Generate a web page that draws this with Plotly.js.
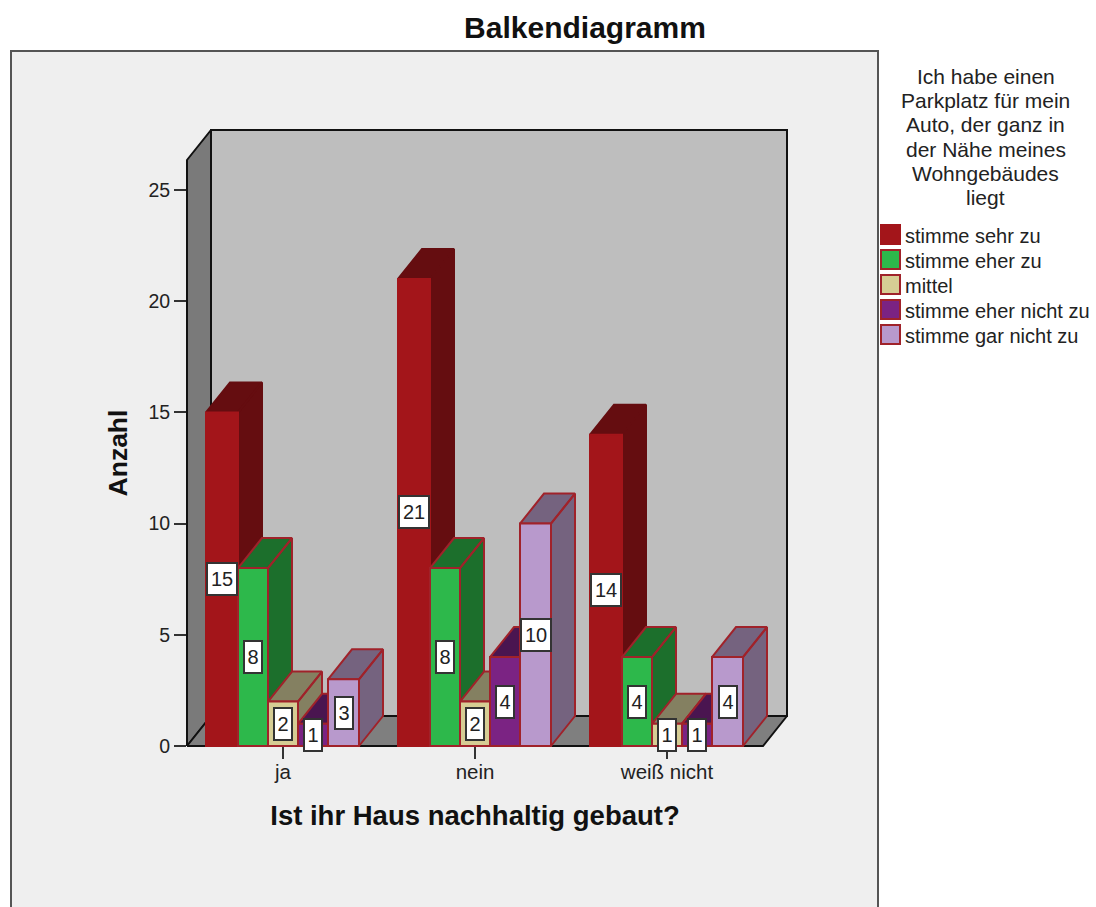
<!DOCTYPE html>
<html>
<head>
<meta charset="utf-8">
<script src="https://cdn.plot.ly/plotly-3.0.1.min.js"></script>
<style>html,body{margin:0;padding:0;background:#fff;overflow:hidden}</style>
</head>
<body>
<div id="chart" style="width:1096px;height:907px"></div>
<script>
// Survey counts per answer, one array per response option
const categories = ["ja", "nein", "weiß nicht"];
const stimmeSehrZu = [15, 21, 14];
const stimmeEherZu = [8, 8, 4];
const mittel = [2, 2, 1];
const stimmeEherNichtZu = [1, 4, 1];
const stimmeGarNichtZu = [3, 10, 4];
const answerNames = ["stimme sehr zu", "stimme eher zu", "mittel", "stimme eher nicht zu", "stimme gar nicht zu"];
const legendHeading = ["Ich habe einen", "Parkplatz für mein", "Auto, der ganz in", "der Nähe meines", "Wohngebäudes", "liegt"];
const yTicks = [0, 5, 10, 15, 20, 25];

const series = [stimmeSehrZu, stimmeEherZu, mittel, stimmeEherNichtZu, stimmeGarNichtZu];
const faceColors = ["#a3151a", "#2db84b", "#d6cd94", "#7b2383", "#b899cc"];
const shadeColors = ["#650d10", "#1c6f2c", "#848061", "#4a1550", "#75637f"];
const edgeColors = ["#a3151a", "#a0222a", "#a0222a", "#a0222a", "#a0222a"];

// Plot frame in page pixels and the scale of the two axes
const LEFT = 187, RIGHT = 763, TOP = 160, BOTTOM = 746;
const Y_MAX = 26.35;
const DEPTH_X = 24 / 192, DEPTH_Y = 30 / 22.24;   // oblique depth of the 3D look, in axis units
// Bar edges relative to the group centre, in axis units
const barEdges = [-77, -45, -15, 15, 45, 76].map(v => v / 192);

const px = x => (x - LEFT) / (RIGHT - LEFT);
const py = y => (BOTTOM - y) / (BOTTOM - TOP);

function wall(xs, ys, fill) {
  return {
    type: "scatter", mode: "lines", x: xs, y: ys, fill: "toself", fillcolor: fill,
    line: {color: "#111", width: 2}, cliponaxis: false, hoverinfo: "skip", zorder: 0
  };
}

const xL = 0.5, xR = 3.5;
const traces = [
  wall([xL + DEPTH_X, xL + DEPTH_X, xR + DEPTH_X, xR + DEPTH_X, xL + DEPTH_X],
       [DEPTH_Y, Y_MAX + DEPTH_Y, Y_MAX + DEPTH_Y, DEPTH_Y, DEPTH_Y], "#bebebe"),
  wall([xL, xL, xL + DEPTH_X, xL + DEPTH_X, xL],
       [0, Y_MAX, Y_MAX + DEPTH_Y, DEPTH_Y, 0], "#7a7a7a"),
  wall([xL, xR, xR + DEPTH_X, xL + DEPTH_X, xL],
       [0, 0, DEPTH_Y, DEPTH_Y, 0], "#7f7f7f")
];

const annotations = [];

series.forEach((values, k) => {
  const x0 = barEdges[k], x1 = barEdges[k + 1];
  // Side and top faces of each bar
  const sx = [], sy = [];
  values.forEach((v, g) => {
    const c = g + 1;
    sx.push(c + x1, c + x1, c + x1 + DEPTH_X, c + x1 + DEPTH_X, c + x1, null,
            c + x0, c + x0 + DEPTH_X, c + x1 + DEPTH_X, c + x1, c + x0, null);
    sy.push(0, v, v + DEPTH_Y, DEPTH_Y, 0, null,
            v, v + DEPTH_Y, v + DEPTH_Y, v, v, null);
  });
  traces.push({
    type: "scatter", mode: "lines", x: sx, y: sy, fill: "toself", fillcolor: shadeColors[k],
    line: {color: k === 0 ? shadeColors[0] : edgeColors[k], width: 2},
    cliponaxis: false, hoverinfo: "skip", connectgaps: false, zorder: 2 * k + 1
  });
  // Front faces
  traces.push({
    type: "bar", name: answerNames[k], x: [1, 2, 3], y: values,
    width: x1 - x0, offset: x0,
    marker: {color: faceColors[k], line: {color: edgeColors[k], width: 2}},
    cliponaxis: false, zorder: 2 * k + 2
  });
  // Value labels in white boxes at half the bar height
  values.forEach((v, g) => {
    annotations.push({
      x: g + 1 + (x0 + x1) / 2, y: v / 2, xref: "x", yref: "y",
      text: String(v), showarrow: false,
      font: {family: "Liberation Sans", size: 20, color: "#222"},
      bgcolor: "#fff", bordercolor: "#333", borderwidth: 2, borderpad: 0,
      width: v >= 10 ? 28 : 16, height: 30, align: "center", valign: "middle"
    });
  });
  // Legend entry
  annotations.push({
    x: px(903), y: py(236 + 25 * k), xref: "paper", yref: "paper",
    xanchor: "left", yanchor: "middle", showarrow: false, text: answerNames[k],
    font: {family: "Liberation Sans", size: 20, color: "#222"}
  });
});

// Heading above the legend, one line per annotation for a tight line pitch
legendHeading.forEach((line, i) => {
  annotations.push({
    x: px(985.5), y: py(76 + 24.4 * i), xref: "paper", yref: "paper",
    xanchor: "center", yanchor: "middle", showarrow: false, text: line,
    font: {family: "Liberation Sans", size: 21, color: "#222"}
  });
});

const shapes = [{
  type: "rect", xref: "paper", yref: "paper", layer: "below",
  x0: px(11), x1: px(878), y0: py(51), y1: py(930),
  fillcolor: "#efefef", line: {color: "#555", width: 2}
}];
faceColors.forEach((c, k) => {
  shapes.push({
    type: "rect", xref: "paper", yref: "paper", layer: "above",
    x0: px(881), x1: px(900), y0: py(225 + 25 * k), y1: py(244 + 25 * k),
    fillcolor: c, line: {color: edgeColors[k], width: 2}
  });
});

const layout = {
  width: 1096, height: 907, autosize: false,
  margin: {l: LEFT, r: 1096 - RIGHT, t: TOP, b: 907 - BOTTOM, pad: 0},
  paper_bgcolor: "#fff", plot_bgcolor: "rgba(0,0,0,0)",
  showlegend: false, barmode: "overlay",
  title: {
    text: "Balkendiagramm", x: 585 / 1096, xanchor: "center", xref: "container",
    y: 1 - 27 / 907, yanchor: "middle", yref: "container",
    font: {family: "Liberation Sans", size: 30, weight: 700, color: "#111"}
  },
  xaxis: {
    range: [xL, xR], tickmode: "array", tickvals: [1, 2, 3], ticktext: categories,
    ticks: "outside", ticklen: 12, tickwidth: 2, tickcolor: "#333",
    ticklabelstandoff: -5,
    showgrid: false, zeroline: false, showline: false,
    tickfont: {family: "Liberation Sans", size: 20.5, color: "#222"},
    title: {text: "Ist ihr Haus nachhaltig gebaut?", standoff: 24,
            font: {family: "Liberation Sans", size: 27.5, weight: 700, color: "#111"}}
  },
  yaxis: {
    range: [0, Y_MAX], tickmode: "array", tickvals: yTicks,
    ticks: "outside", ticklen: 12, tickwidth: 2, tickcolor: "#333",
    showgrid: false, zeroline: false, showline: false,
    tickfont: {family: "Liberation Sans", size: 19.5, color: "#222"},
    title: {text: "Anzahl", standoff: 13,
            font: {family: "Liberation Sans", size: 26.5, weight: 700, color: "#111"}}
  },
  shapes, annotations
};

Plotly.newPlot("chart", traces, layout, {displayModeBar: false, staticPlot: true}).then(gd => {
  // The cabinet walls and bar depth reach past the axis frame, so let them draw there
  gd.querySelectorAll(".cartesianlayer [clip-path]").forEach(el => el.removeAttribute("clip-path"));
});
</script>
</body>
</html>
